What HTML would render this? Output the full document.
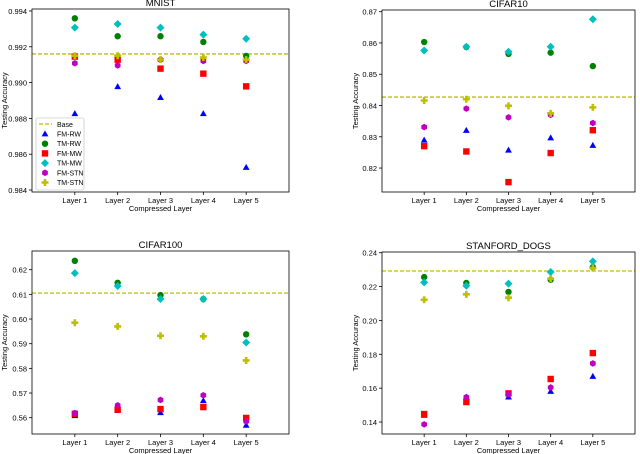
<!DOCTYPE html>
<html><head><meta charset="utf-8"><style>
body{margin:0;background:#fff;}
svg{display:block;font-family:"Liberation Sans","DejaVu Sans",sans-serif;}
</style></head><body>
<svg id="c" width="640" height="454" viewBox="0 0 640 454"></svg>
<script>
const categories=["Layer 1","Layer 2","Layer 3","Layer 4","Layer 5"];
const seriesNames=["FM-RW","TM-RW","FM-MW","TM-MW","FM-STN","TM-STN"];
const mnistValues=[[0.98826,0.98977,0.98916,0.98826,0.98526],[0.99359,0.99259,0.99259,0.99227,0.99149],[0.99145,0.99128,0.99078,0.9905,0.98979],[0.99307,0.99327,0.99307,0.99268,0.99245],[0.99108,0.99096,0.99128,0.99121,0.99121],[0.9915,0.9915,0.99128,0.9914,0.99128]];
const cifar10Values=[[0.8289,0.8320,0.8257,0.8296,0.8272],[0.8603,0.8587,0.8565,0.8569,0.8526],[0.8270,0.8253,0.8155,0.8248,0.8321],[0.8576,0.8588,0.8572,0.8588,0.8676],[0.8331,0.8390,0.8362,0.8370,0.8344],[0.8416,0.8420,0.8399,0.8375,0.8394]];
const cifar100Values=[[0.5608,0.5632,0.5620,0.5669,0.5569],[0.6236,0.6147,0.6097,0.6081,0.5938],[0.5616,0.5632,0.5635,0.5643,0.5599],[0.6186,0.6134,0.6081,0.6081,0.5905],[0.5619,0.5650,0.5672,0.5691,0.5585],[0.5985,0.5970,0.5932,0.5930,0.5832]];
const dogsValues=[[0.1439,0.1547,0.1547,0.1580,0.1669],[0.2256,0.2221,0.2168,0.2240,0.2315],[0.1447,0.1518,0.1569,0.1654,0.1807],[0.2225,0.2205,0.2217,0.2286,0.2349],[0.1386,0.1547,0.1563,0.1604,0.1746],[0.2122,0.2154,0.2134,0.2246,0.2309]];
const baseValues=[0.99160,0.8427,0.6105,0.2292];
const mnistTicks=["0.984","0.986","0.988","0.990","0.992","0.994"];
const cifar10Ticks=["0.82","0.83","0.84","0.85","0.86","0.87"];
const cifar100Ticks=["0.56","0.57","0.58","0.59","0.60","0.61","0.62"];
const dogsTicks=["0.14","0.16","0.18","0.20","0.22","0.24"];
const titles=["MNIST","CIFAR10","CIFAR100","STANFORD_DOGS"];

const NS="http://www.w3.org/2000/svg";
const svg=document.getElementById('c');
function mk(tag,attrs,parent,text){const e=document.createElementNS(NS,tag);for(const k in attrs)e.setAttribute(k,attrs[k]);if(text!==undefined)e.textContent=text;(parent||svg).appendChild(e);return e;}
const colors=["#0000ff","#008000","#ff0000","#00bfbf","#bf00bf","#bfbf00"];
function marker(g,type,x,y,col){
  let e;
  if(type===0){e=mk('polygon',{points:`${x},${y-3.6} ${x+3.4},${y+2.4} ${x-3.4},${y+2.4}`,fill:col},g);}
  else if(type===1){e=mk('circle',{cx:x,cy:y,r:3.2,fill:col},g);}
  else if(type===2){e=mk('rect',{x:x-3.2,y:y-3.2,width:6.4,height:6.4,fill:col},g);}
  else if(type===3){e=mk('polygon',{points:`${x},${y-4} ${x+4},${y} ${x},${y+4} ${x-4},${y}`,fill:col},g);}
  else if(type===4){let p=[];for(let i=0;i<6;i++){const a=Math.PI/3*i+Math.PI/6;p.push((x+3.3*Math.cos(a))+','+(y+3.3*Math.sin(a)));}e=mk('polygon',{points:p.join(' '),fill:col},g);}
  else {e=mk('path',{d:`M${x-1.3},${y-3.5}h2.6v2.2h2.2v2.6h-2.2v2.2h-2.6v-2.2h-2.2v-2.6h2.2z`,fill:col},g);}
  return e;
}
const panels=[
 {vals:mnistValues,ticks:mnistTicks,x0:32,x1:289,top:9,bot:192,lo:0.98389,hi:0.99411,ylx:7},
 {vals:cifar10Values,ticks:cifar10Ticks,x0:382,x1:635,top:10,bot:192,lo:0.81234,hi:0.87054,ylx:358},
 {vals:cifar100Values,ticks:cifar100Ticks,x0:32,x1:289,top:251,bot:434,lo:0.55339,hi:0.62758,ylx:7},
 {vals:dogsValues,ticks:dogsTicks,x0:382,x1:635,top:252,bot:434,lo:0.13292,hi:0.24041,ylx:358}
];
panels.forEach((p,pi)=>{
  const g=mk('g',{},svg);
  
  
  const xs=i=>p.x0+(i+1)*(p.x1-p.x0)/6;
  const ys=v=>p.bot-(v-p.lo)/(p.hi-p.lo)*(p.bot-p.top);
  const t=mk('text',{x:(p.x0+p.x1)/2,y:p.top-3,'text-anchor':'middle','font-size':9.5,fill:'#000'},g,titles[pi]);
  
  p.ticks.forEach(tl=>{const y=ys(parseFloat(tl));
    mk('line',{x1:p.x0-3,x2:p.x0,y1:y,y2:y,stroke:'#000','stroke-width':0.8},g);
    const e=mk('text',{x:p.x0-5,y:y+3,'text-anchor':'end','font-size':7.5,fill:'#000'},g,tl);
    });
  categories.forEach((c,i)=>{const x=xs(i);
    mk('line',{x1:x,x2:x,y1:p.bot,y2:p.bot+3,stroke:'#000','stroke-width':0.8},g);
    const e=mk('text',{x:x,y:p.bot+11,'text-anchor':'middle','font-size':7.5,fill:'#000'},g,c);
    });
  const xl=mk('text',{x:(p.x0+p.x1)/2,y:p.bot+19,'text-anchor':'middle','font-size':7.5,fill:'#000'},g,'Compressed Layer');
  
  const yc=(p.top+p.bot)/2;
  const yl=mk('text',{x:p.ylx,y:yc,'text-anchor':'middle','font-size':7.5,fill:'#000',transform:`rotate(-90 ${p.ylx} ${yc})`},g,'Testing Accuracy');
  
  const by=ys(baseValues[pi]);
  const bl=mk('line',{x1:p.x0,x2:p.x1,y1:by,y2:by,stroke:'#bfbf00','stroke-width':1.3,'stroke-dasharray':'4,2'},g);
  
  p.vals.forEach((s,si)=>s.forEach((v,i)=>{
    const m=marker(g,si,xs(i),ys(v),colors[si]);
    
    
  }));
  const fr=mk('rect',{x:p.x0,y:p.top,width:p.x1-p.x0,height:p.bot-p.top,fill:'none',stroke:'#000','stroke-width':0.8},g);
  
});
// legend
const lg=mk('g',{},svg);


mk('rect',{x:36,y:118,width:48,height:72,fill:'#fff','fill-opacity':0.85,stroke:'#ccc','stroke-width':0.8,rx:2},lg);
mk('line',{x1:39,x2:52,y1:124,y2:124,stroke:'#bfbf00','stroke-width':1.3,'stroke-dasharray':'4,2'},lg);
const lb=mk('text',{x:57,y:127,'font-size':7,fill:'#000'},lg,'Base');

seriesNames.forEach((n,i)=>{const y=134+i*9.7;
  marker(lg,i,45,y,colors[i]);
  const e=mk('text',{x:57,y:y+2.5,'font-size':7,fill:'#000'},lg,n);
  });
</script>
</body></html>
